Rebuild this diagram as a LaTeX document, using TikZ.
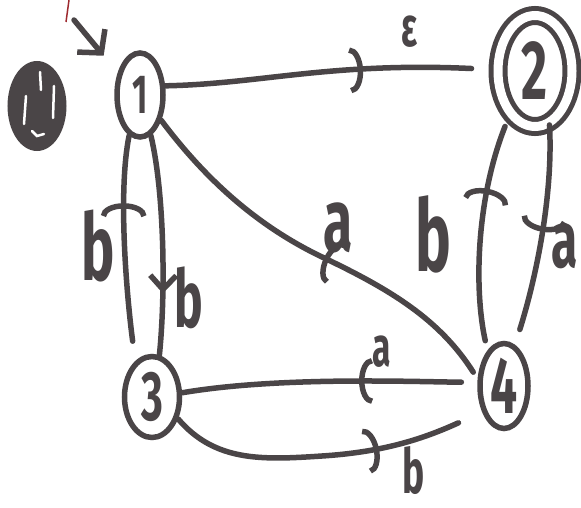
\documentclass[tikz,border=0pt]{standalone}
\usepackage{fontspec}
\setmainfont{Fira Sans}
\usepackage{graphicx}
\usetikzlibrary{arrows.meta, shapes.geometric, decorations.markings}
\definecolor{clrPen}{HTML}{4A4547}
\definecolor{clrRed}{HTML}{9E2A2F}
% handwritten-looking glyph: narrow and tall
\newcommand{\hand}[2]{\scalebox{0.6}[1]{\fontsize{#1}{#1}\selectfont\bfseries #2}}
\tikzset{
  state/.style  = {ellipse, draw=clrPen, line width=5.5pt,
                   inner sep=0pt, text=clrPen},
  accept/.style = {state, double, double distance=9pt, line width=5pt},
  blob/.style   = {ellipse, fill=clrPen, draw=clrPen, line width=2pt,
                   inner sep=0pt},
  streak/.style = {white, line width=2.5pt, line cap=round},
  trans/.style  = {draw=clrPen, line width=5.5pt, line cap=round},
  midarc/.style = {postaction={decorate, decoration={markings,
                   mark=at position #1 with
                   {\arrow{Arc Barb[length=13pt, width=46pt]}}}}},
  midv/.style   = {postaction={decorate, decoration={markings,
                   mark=at position #1 with
                   {\arrow{Straight Barb[length=14pt, width=26pt]}}}}},
  lbl/.style    = {text=clrPen, inner sep=0pt},
}

\begin{document}
\begin{tikzpicture}[x=1pt, y=1pt]
\useasboundingbox (0,0) rectangle (581,-508);

% ── states ──────────────────────────────────────────────────────────────
\node[state, minimum width=46pt, minimum height=84pt] (n1) at (140,-95)  {\hand{55}{1}};
\node[accept, minimum width=74pt, minimum height=111pt] (n2) at (535,-71) {\hand{84}{2}};
\node[state, minimum width=55pt, minimum height=81pt] (n3) at (152,-397) {\hand{70}{3}};
\node[state, minimum width=48pt, minimum height=85pt] (n4) at (504,-386) {\hand{80}{4}};

% blotted mark on the left
\node[blob, minimum width=57pt, minimum height=88pt] (blob) at (37,-106) {};
\draw[streak] (40,-72) -- (41,-90);
\draw[streak] (54,-86) -- (53,-118);
\draw[streak] (26,-96) -- (24,-124);
\draw[streak] (32,-131) -- (37,-136) -- (44,-134);

% stray red pen stroke
\draw[clrRed, line width=1.5pt] (69,0) -- (66,-22);

% ── start arrow ─────────────────────────────────────────────────────────
\coordinate (start) at (74,-20);
\draw[trans, -{Straight Barb[length=16pt, width=36pt]}, shorten >=22pt]
  (start) -- (n1.135);

% ── transitions ─────────────────────────────────────────────────────────
\draw[trans, midarc=0.6, shorten >=24pt]
  (n1.20) .. controls (260,-84) and (330,-62) .. (n2.178);

\draw[trans, midarc=0.7, shorten <=20pt]
  (n3.115) .. controls (126,-290) and (118,-190) .. (n1.255);
\draw[trans, midv=0.72]
  (n1.285) .. controls (164,-190) and (166,-290) .. (n3.80);

\draw[trans, midarc=0.48, shorten <=8pt]
  (n4.165) .. controls (440,-320) and (392,-290) .. (320,-256)
           .. controls (250,-222) and (200,-172) .. (n1.-50);

\draw[trans, midarc=0.4, shorten <=16pt]
  (n4.172) .. controls (420,-382) and (280,-376) .. (n3.8);
\draw[trans, midarc=0.66, shorten >=26pt]
  (n3.-40) .. controls (215,-462) and (262,-460) .. (322,-456)
           .. controls (385,-452) and (425,-438) .. (n4.230);

\draw[trans, midarc=0.68, shorten <=10pt, shorten >=12pt]
  (n4.115) .. controls (474,-290) and (476,-200) .. (n2.-120);
\draw[trans, midarc=0.48, shorten >=16pt]
  (n2.-75) .. controls (553,-185) and (540,-265) .. (n4.75);

% ── labels ──────────────────────────────────────────────────────────────
\node[lbl] (leps) at (410,-32)  {\hand{56}{ε}};
\node[lbl] (lb31) at (98,-246)  {\hand{93}{b}};
\node[lbl] (lb13) at (189,-298) {\hand{80}{b}};
\node[lbl] (la41) at (338,-228) {\hand{89}{a}};
\node[lbl] (lb42) at (433,-234) {\hand{100}{b}};
\node[lbl] (la24) at (565,-246) {\hand{80}{a}};
\node[lbl] (la43) at (382,-352) {\hand{56}{a}};
\node[lbl] (lb34) at (414,-470) {\hand{62}{b}};

\end{tikzpicture}
\end{document}
